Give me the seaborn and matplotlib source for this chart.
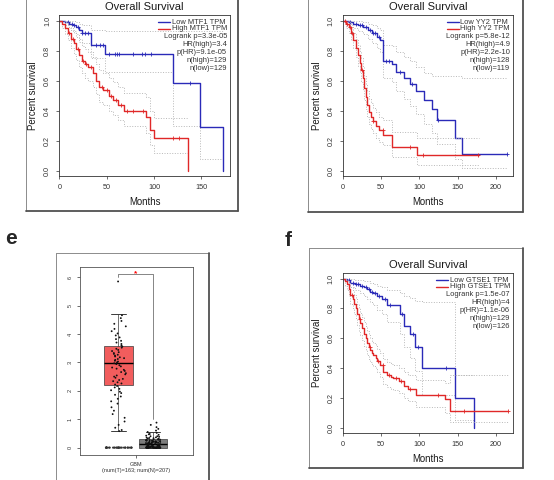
import numpy as np
import pandas as pd
import matplotlib
matplotlib.use("Agg")
import matplotlib.pyplot as plt
import seaborn as sns
from matplotlib.lines import Line2D

# ------------------------- data -------------------------
# Panel top-left: MTF1
mtf1_low_t = [0, 6, 10, 14, 18, 21, 24, 33, 48, 120, 149, 173]
mtf1_low_s = [1.0, 0.99, 0.98, 0.97, 0.96, 0.94, 0.92, 0.84, 0.78, 0.585, 0.29, 0.0]
mtf1_low_up = [1.0, 1.0, 1.0, 1.0, 0.99, 0.98, 0.97, 0.94, 0.93, 0.93, 0.93, 0.93]
mtf1_low_lo = [1.0, 0.97, 0.95, 0.93, 0.91, 0.88, 0.85, 0.75, 0.66, 0.30, 0.08, 0.08]
mtf1_low_cens = [9, 13, 16, 20, 24, 27, 30, 39, 43, 46, 53, 59, 61, 63, 78, 87, 90, 97, 138]
mtf1_high_t = [0, 3, 6, 9, 12, 15, 18, 21, 24, 27, 30, 36, 39, 42, 46, 52, 57, 62, 68, 92, 96, 100, 136]
mtf1_high_s = [1.0, 0.98, 0.95, 0.92, 0.88, 0.85, 0.81, 0.77, 0.73, 0.71, 0.69, 0.65, 0.60, 0.56,
               0.54, 0.50, 0.47, 0.44, 0.40, 0.36, 0.27, 0.22, 0.0]
mtf1_high_up = [1.0, 1.0, 0.99, 0.97, 0.94, 0.92, 0.89, 0.86, 0.83, 0.81, 0.79, 0.76, 0.71, 0.67,
                0.65, 0.62, 0.59, 0.56, 0.52, 0.49, 0.40, 0.35, 0.35]
mtf1_high_lo = [1.0, 0.95, 0.91, 0.87, 0.82, 0.78, 0.74, 0.69, 0.65, 0.62, 0.60, 0.56, 0.51, 0.46,
                0.44, 0.40, 0.37, 0.34, 0.30, 0.25, 0.17, 0.12, 0.12]
mtf1_high_cens = [10, 14, 20, 25, 28, 33, 45, 50, 55, 60, 65, 72, 78, 88, 120, 126]
mtf1_stats = ["Logrank p=3.3e-05", "HR(high)=3.4", "p(HR)=9.1e-05", "n(high)=129", "n(low)=129"]

# Panel top-right: YY2
yy2_low_t = [0, 8, 14, 20, 27, 33, 38, 45, 49, 53, 64, 69, 80, 88, 96, 106, 117, 123, 147, 156, 215]
yy2_low_s = [1.0, 0.99, 0.98, 0.97, 0.96, 0.94, 0.92, 0.89, 0.87, 0.73, 0.71, 0.66, 0.62, 0.58,
             0.53, 0.47, 0.41, 0.34, 0.22, 0.11, 0.11]
yy2_low_up = [1.0, 1.0, 1.0, 1.0, 0.99, 0.98, 0.97, 0.95, 0.94, 0.84, 0.83, 0.79, 0.76, 0.73,
              0.69, 0.65, 0.63, 0.63, 0.63, 0.62, 0.62]
yy2_low_lo = [1.0, 0.97, 0.95, 0.93, 0.91, 0.88, 0.85, 0.82, 0.79, 0.62, 0.59, 0.53, 0.48, 0.43,
              0.38, 0.31, 0.25, 0.18, 0.08, 0.02, 0.02]
yy2_low_cens = [10, 18, 22, 25, 30, 35, 40, 42, 47, 57, 60, 75, 90, 125, 215]
yy2_high_t = [0, 4, 8, 11, 14, 17, 20, 22, 24, 26, 28, 30, 32, 34, 37, 40, 44, 48, 53, 64, 97, 178]
yy2_high_s = [1.0, 0.98, 0.96, 0.92, 0.87, 0.82, 0.77, 0.72, 0.67, 0.62, 0.55, 0.49, 0.44, 0.39,
              0.36, 0.33, 0.30, 0.27, 0.24, 0.16, 0.105, 0.105]
yy2_high_up = [1.0, 1.0, 0.99, 0.96, 0.92, 0.88, 0.84, 0.79, 0.75, 0.70, 0.63, 0.58, 0.53, 0.48,
               0.45, 0.42, 0.39, 0.36, 0.34, 0.26, 0.22, 0.22]
yy2_high_lo = [1.0, 0.95, 0.92, 0.87, 0.82, 0.76, 0.70, 0.65, 0.59, 0.54, 0.47, 0.41, 0.36, 0.31,
               0.28, 0.25, 0.22, 0.19, 0.17, 0.09, 0.04, 0.04]
yy2_high_cens = [3, 6, 9, 12, 25, 40, 52, 88, 105, 176]
yy2_stats = ["Logrank p=5.8e-12", "HR(high)=4.9", "p(HR)=2.2e-10", "n(high)=128", "n(low)=119"]

# Panel f: GTSE1
gtse1_low_t = [0, 6, 10, 16, 23, 28, 32, 36, 40, 45, 51, 58, 75, 80, 88, 95, 104, 147, 172]
gtse1_low_s = [1.0, 0.99, 0.97, 0.96, 0.95, 0.94, 0.93, 0.91, 0.90, 0.88, 0.86, 0.82, 0.76, 0.68,
               0.63, 0.54, 0.40, 0.20, 0.0]
gtse1_low_up = [1.0, 1.0, 1.0, 0.99, 0.99, 0.98, 0.98, 0.97, 0.96, 0.95, 0.94, 0.92, 0.90, 0.88,
                0.87, 0.85, 0.84, 0.35, 0.35]
gtse1_low_lo = [1.0, 0.97, 0.94, 0.92, 0.90, 0.88, 0.86, 0.84, 0.82, 0.79, 0.76, 0.71, 0.63, 0.54,
                0.47, 0.38, 0.22, 0.05, 0.05]
gtse1_low_cens = [8, 13, 18, 20, 25, 30, 34, 38, 42, 48, 55, 62, 78, 92, 98, 135]
gtse1_high_t = [0, 3, 6, 8, 10, 13, 15, 17, 19, 21, 23, 25, 28, 30, 32, 34, 36, 38, 40, 43, 45, 49,
                53, 58, 63, 66, 73, 80, 85, 96, 134, 140, 216]
gtse1_high_s = [1.0, 0.98, 0.96, 0.93, 0.89, 0.86, 0.83, 0.80, 0.76, 0.73, 0.70, 0.67, 0.63, 0.60,
                0.57, 0.54, 0.52, 0.50, 0.49, 0.47, 0.45, 0.42, 0.37, 0.35, 0.34, 0.33, 0.31, 0.28,
                0.26, 0.22, 0.19, 0.11, 0.11]
gtse1_high_up = [1.0, 1.0, 0.99, 0.97, 0.94, 0.92, 0.89, 0.86, 0.83, 0.80, 0.77, 0.74, 0.71, 0.68,
                 0.65, 0.62, 0.60, 0.58, 0.57, 0.55, 0.53, 0.50, 0.46, 0.44, 0.43, 0.42, 0.40, 0.37,
                 0.35, 0.32, 0.30, 0.35, 0.35]
gtse1_high_lo = [1.0, 0.95, 0.92, 0.88, 0.83, 0.80, 0.76, 0.73, 0.69, 0.65, 0.62, 0.59, 0.55, 0.52,
                 0.49, 0.46, 0.44, 0.42, 0.41, 0.39, 0.37, 0.34, 0.29, 0.27, 0.26, 0.25, 0.23, 0.20,
                 0.18, 0.14, 0.10, 0.04, 0.04]
gtse1_high_cens = [12, 22, 35, 46, 52, 60, 70, 76, 88, 125, 158, 216]
gtse1_stats = ["Logrank p=1.5e-07", "HR(high)=4", "p(HR)=1.1e-06", "n(high)=129", "n(low)=126"]

surv_yticks = [0.0, 0.2, 0.4, 0.6, 0.8, 1.0]

# Panel e: expression box plot (GBM)
box_groups = ["Tumor", "Normal"]
box_category = "GBM"
box_label = "GBM\n(num(T)=163; num(N)=207)"
# whislo, q1, median, q3, whishi
tumor_stats = [0.58, 2.22, 2.97, 3.58, 4.70]
normal_stats = [0.0, 0.0, 0.13, 0.30, 0.55]
tumor_zero_values = [0.0] * 30
tumor_values = [0.58, 0.62, 0.70, 0.80, 0.92, 1.05, 1.18, 1.30, 1.42, 1.55, 1.63, 1.72, 1.80, 1.86,
                1.92, 1.97, 2.02, 2.07, 2.12, 2.17, 2.22, 2.26, 2.30, 2.34, 2.38, 2.42, 2.46, 2.50,
                2.54, 2.58, 2.62, 2.66, 2.70, 2.74, 2.78, 2.82, 2.86, 2.90, 2.94, 2.97, 3.00, 3.03,
                3.06, 3.09, 3.12, 3.15, 3.18, 3.21, 3.24, 3.27, 3.30, 3.33, 3.36, 3.40, 3.44, 3.48,
                3.52, 3.56, 3.60, 3.65, 3.70, 3.76, 3.82, 3.88, 3.95, 4.02, 4.10, 4.18, 4.27, 4.36,
                4.46, 4.56, 4.66, 5.85]
normal_values = ([0.0] * 30 +
                 [0.01, 0.02, 0.03, 0.04, 0.05, 0.06, 0.07, 0.08, 0.09, 0.10, 0.11, 0.12, 0.13, 0.14,
                  0.15, 0.16, 0.17, 0.18, 0.19, 0.20, 0.21, 0.22, 0.23, 0.24, 0.25, 0.26, 0.27, 0.28,
                  0.29, 0.30, 0.32, 0.34, 0.36, 0.38, 0.40, 0.42, 0.45, 0.48, 0.52, 0.55, 0.60, 0.66,
                  0.72, 0.80, 0.88,
                  0.02, 0.04, 0.05, 0.07, 0.08, 0.10, 0.11, 0.12, 0.14, 0.15, 0.17, 0.18, 0.20, 0.22,
                  0.24, 0.26, 0.28, 0.31, 0.35,
                  0.03, 0.06, 0.09, 0.12, 0.15, 0.18, 0.21, 0.25, 0.29, 0.33, 0.40, 0.47])
significance = "*"

# ------------------------- drawing -------------------------
sns.set_theme(style="ticks")
plt.rcParams["font.family"] = ["Liberation Sans", "DejaVu Sans"]

W, H = 554, 480
fig = plt.figure(figsize=(W / 100, H / 100), dpi=100)
fig.patch.set_facecolor("white")

BLUE = "#2a2ab8"
RED = "#e02828"
CI = "#b8b8b8"
INK = "#333333"


def rect(l, r, t, b):
    return [l / W, 1 - b / H, (r - l) / W, (b - t) / H]


def frame(l, r, t, b):
    kw = dict(transform=fig.transFigure, clip_on=False)
    fig.add_artist(Line2D([l / W, l / W], [1 - t / H, 1 - b / H], color="#8c8c8c", lw=0.7, **kw))
    fig.add_artist(Line2D([l / W, r / W], [1 - t / H, 1 - t / H], color="#8c8c8c", lw=0.7, **kw))
    fig.add_artist(Line2D([r / W, r / W], [1 - t / H, 1 - b / H], color="#505050", lw=1.3, **kw))
    fig.add_artist(Line2D([l / W, r / W], [1 - b / H, 1 - b / H], color="#505050", lw=1.3, **kw))


def step_at(t, s, x):
    idx = np.searchsorted(np.asarray(t), np.asarray(x), side="right") - 1
    return np.asarray(s)[idx]


def draw_group(ax, t, s, up, lo, cens, color):
    for vals in (up, lo):
        sns.lineplot(x=t, y=vals, ax=ax, color=CI, linestyle=":", lw=0.7,
                     drawstyle="steps-post", estimator=None, sort=False, legend=False)
    sns.lineplot(x=t, y=s, ax=ax, color=color, lw=1.0,
                 drawstyle="steps-post", estimator=None, sort=False, legend=False)
    ax.plot(cens, step_at(t, s, cens), ls="none", marker="+", ms=3.2, mew=0.6, color=color)


def km_panel(box, gene, low, high, stats, xmax, xticks):
    l, r, t, b = box
    wpx, hpx = r - l, b - t
    ax = fig.add_axes(rect(*box))
    draw_group(ax, *low, BLUE)
    draw_group(ax, *high, RED)
    ax.set_xlim(0, xmax)
    ax.set_ylim(-0.036, 1.037)
    ax.set_xticks(xticks)
    ax.set_xticklabels([str(v) for v in xticks])
    ax.set_yticks(surv_yticks)
    ax.set_yticklabels([f"{v:.1f}" for v in surv_yticks], rotation=90, va="center")
    ax.tick_params(length=2.5, width=0.5, pad=3.5, labelsize=5.2, colors=INK,
                   direction="out", bottom=True, left=True)
    for sp in ax.spines.values():
        sp.set_visible(True)
        sp.set_linewidth(0.6)
        sp.set_color(INK)
    ax.set_title("Overall Survival", fontsize=8.0, color="#1a1a1a", pad=0,
                 y=1 + 7.7 / hpx, va="center")
    ax.set_xlabel("Months", fontsize=6.9, color="#1a1a1a", va="center")
    ax.xaxis.set_label_coords(0.5, -25.7 / hpx)
    ax.set_ylabel("Percent survival", fontsize=6.9, color="#1a1a1a", va="center")
    ax.yaxis.set_label_coords(-26 / wpx, 0.5)

    # legend block (R style)
    rnd = fig.canvas.get_renderer()
    bb = ax.get_window_extent(rnd)
    fs = 5.4
    xr = 1 - 3 / bb.width
    offs = [7, 13.5, 21.5, 29.5, 37.5, 45.5, 53.5]
    ys = [1 - o / bb.height for o in offs]
    th = ax.text(xr, ys[1], f"High {gene} TPM", ha="right", va="center", fontsize=fs,
                 color=INK, transform=ax.transAxes)
    ext = th.get_window_extent(rnd)
    xl = (ext.x0 - bb.x0) / bb.width
    ax.text(xl, ys[0], f"Low {gene} TPM", ha="left", va="center", fontsize=fs,
            color=INK, transform=ax.transAxes)
    for y, c in ((ys[0], BLUE), (ys[1], RED)):
        ax.plot([xl - 13.5 / bb.width, xl - 1.5 / bb.width], [y, y], transform=ax.transAxes,
                color=c, lw=1.0, clip_on=False)
    for y, s in zip(ys[2:], stats):
        ax.text(xr, y, s, ha="right", va="center", fontsize=fs, color=INK, transform=ax.transAxes)
    return ax


# outer panel frames
frame(26, 238, -5, 211)
frame(308, 523, -5, 211.5)
frame(56, 209, 253, 490)
frame(309, 523, 248, 468)

km_panel((59.3, 230, 15, 176), "MTF1",
         (mtf1_low_t, mtf1_low_s, mtf1_low_up, mtf1_low_lo, mtf1_low_cens),
         (mtf1_high_t, mtf1_high_s, mtf1_high_up, mtf1_high_lo, mtf1_high_cens),
         mtf1_stats, 180.3, [0, 50, 100, 150])
km_panel((342.7, 513, 15, 176), "YY2",
         (yy2_low_t, yy2_low_s, yy2_low_up, yy2_low_lo, yy2_low_cens),
         (yy2_high_t, yy2_high_s, yy2_high_up, yy2_high_lo, yy2_high_cens),
         yy2_stats, 222.3, [0, 50, 100, 150, 200])
km_panel((342.7, 513, 273, 433), "GTSE1",
         (gtse1_low_t, gtse1_low_s, gtse1_low_up, gtse1_low_lo, gtse1_low_cens),
         (gtse1_high_t, gtse1_high_s, gtse1_high_up, gtse1_high_lo, gtse1_high_cens),
         gtse1_stats, 222.3, [0, 50, 100, 150, 200])

# ---- panel e: box plot ----
axe = fig.add_axes(rect(80, 193, 267, 455))
stats_dicts = []
for st in (tumor_stats, normal_stats):
    stats_dicts.append(dict(whislo=st[0], q1=st[1], med=st[2], q3=st[3], whishi=st[4], fliers=[]))
bp = axe.bxp(stats_dicts, positions=[-0.2, 0.2], widths=0.328, capwidths=0.17,
             patch_artist=True, showfliers=False, manage_ticks=False,
             boxprops=dict(edgecolor="#3a3a3a", linewidth=0.5),
             medianprops=dict(color="black", linewidth=1.0),
             whiskerprops=dict(color="#3a3a3a", linewidth=0.5),
             capprops=dict(color="#3a3a3a", linewidth=0.7))
bp["boxes"][0].set_facecolor("#f25d5d")
bp["boxes"][1].set_facecolor("#7d7d7d")
for artist in bp["boxes"] + bp["medians"] + bp["whiskers"] + bp["caps"]:
    artist.set_zorder(2)

pts = pd.DataFrame({
    "cat": [box_category] * (len(tumor_values) + len(normal_values)),
    "group": [box_groups[0]] * len(tumor_values) + [box_groups[1]] * len(normal_values),
    "value": tumor_values + normal_values,
})
zeros = pd.DataFrame({
    "cat": [box_category] * len(tumor_zero_values),
    "group": [box_groups[0]] * len(tumor_zero_values),
    "value": tumor_zero_values,
})
np.random.seed(3)
sns.stripplot(data=pts, x="cat", y="value", hue="group", hue_order=box_groups, dodge=True,
              jitter=0.18, palette={"Tumor": "#111111", "Normal": "#111111"}, size=1.35,
              ax=axe, legend=False, zorder=3)
sns.stripplot(data=zeros, x="cat", y="value", hue="group", hue_order=box_groups, dodge=True,
              jitter=0.32, palette={"Tumor": "#333333", "Normal": "#333333"}, size=1.5,
              ax=axe, legend=False, zorder=3)

# significance bracket between the two groups
yb = 6.12
axe.plot([-0.2, -0.2, 0.2, 0.2], [6.0, yb, yb, 1.0], color="#555555", lw=0.5, zorder=1)
axe.text(0, yb, significance, color="red", ha="center", va="center", fontsize=6,
         fontweight="bold", zorder=4)

axe.set_xlim(-0.646, 0.664)
axe.set_ylim(-0.26, 6.36)
axe.set_xticks([0])
axe.set_xticklabels([box_label], fontsize=4.0, linespacing=1.35, color=INK)
axe.set_yticks([0, 1, 2, 3, 4, 5, 6])
axe.set_yticklabels(["0", "1", "2", "3", "4", "5", "6"], rotation=90, va="center")
axe.tick_params(length=2.0, width=0.5, pad=3, labelsize=4.0, colors=INK, direction="out",
                bottom=True, left=True)
axe.set_xlabel("")
axe.set_ylabel("")
for sp in axe.spines.values():
    sp.set_visible(True)
    sp.set_linewidth(0.6)
    sp.set_color("#555555")

# panel letters
fig.text(11 / W, 1 - 239 / H, "e", fontsize=15, fontweight="bold", ha="center", va="center")
fig.text(288 / W, 1 - 240 / H, "f", fontsize=15, fontweight="bold", ha="center", va="center")

fig.savefig("out.png", dpi=100, facecolor="white")
